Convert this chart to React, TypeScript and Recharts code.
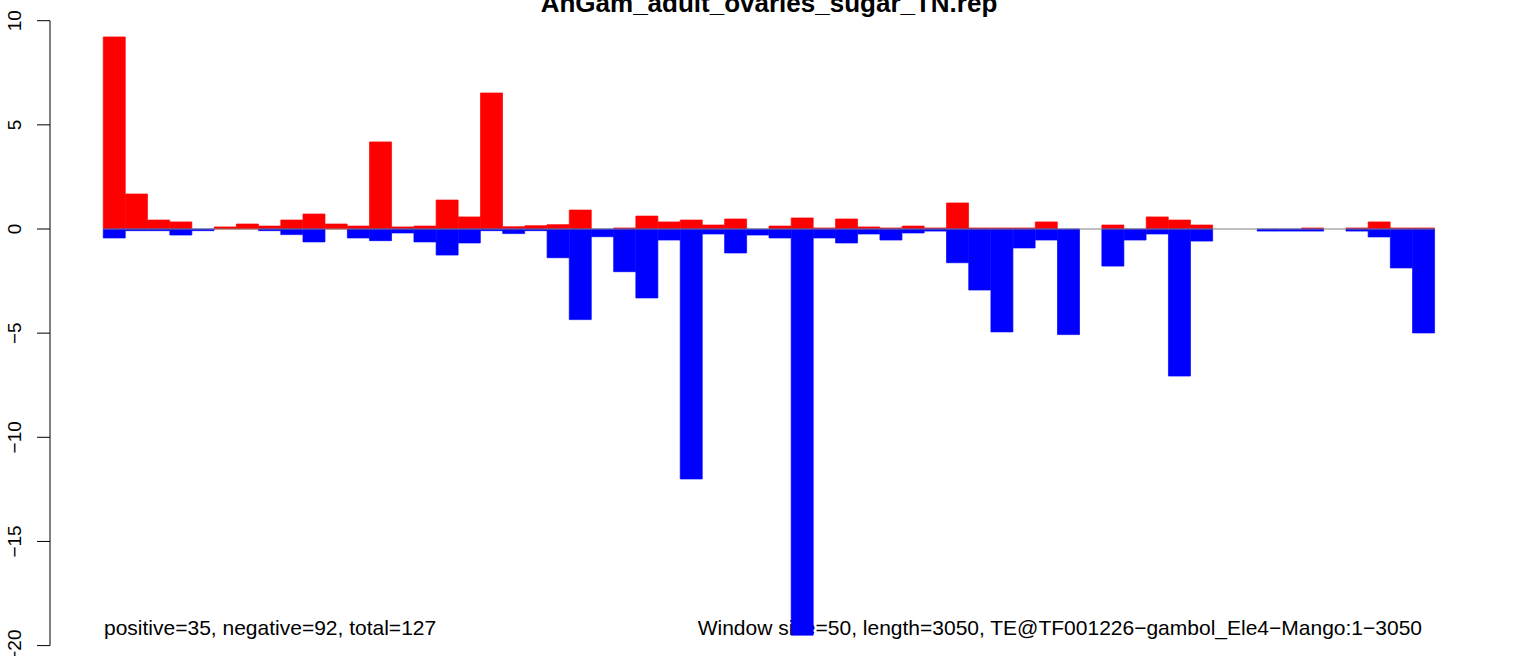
import React from 'react';
import { ComposedChart, Bar, XAxis, YAxis, ReferenceLine } from 'recharts';

const FONT = '"Liberation Sans", Arial, Helvetica, sans-serif';

const title = 'AnGam_adult_ovaries_sugar_TN.rep';
const leftNote = 'positive=35, negative=92, total=127';
const rightNote = 'Window size=50, length=3050, TE@TF001226\u2212gambol_Ele4\u2212Mango:1\u22123050';

// one value per 50bp window (60 windows)
const positive = [
  9.22, 1.68, 0.43, 0.34, 0, 0.1, 0.24, 0.14, 0.43, 0.72,
  0.24, 0.14, 4.18, 0.1, 0.14, 1.39, 0.58, 6.53, 0.11, 0.16,
  0.21, 0.91, 0, 0.05, 0.62, 0.34, 0.43, 0.19, 0.48, 0,
  0.14, 0.53, 0.05, 0.48, 0.1, 0.05, 0.14, 0.05, 1.25, 0.05,
  0.05, 0.05, 0.34, 0, 0, 0.19, 0, 0.58, 0.43, 0.19,
  0, 0, 0, 0, 0.05, 0, 0.05, 0.34, 0.05, 0.05,
];

const negative = [
  -0.43, -0.08, -0.08, -0.29, -0.08, 0, 0, -0.08, -0.27, -0.62,
  0, -0.43, -0.56, -0.19, -0.62, -1.25, -0.67, -0.08, -0.22, -0.08,
  -1.38, -4.35, -0.37, -2.05, -3.31, -0.53, -12.0, -0.24, -1.15, -0.29,
  -0.43, -19.5, -0.43, -0.67, -0.24, -0.53, -0.19, -0.1, -1.62, -2.93,
  -4.94, -0.91, -0.53, -5.07, 0, -1.78, -0.53, -0.24, -7.06, -0.58,
  0, 0, -0.1, -0.1, -0.1, 0, -0.1, -0.38, -1.87, -4.99,
];

const yTicks = [-20, -15, -10, -5, 0, 5, 10];

const data = positive.map((p, i) => ({ win: i + 0.5, up: p, down: negative[i] }));

const YTick = (props: any) => {
  const { y, payload } = props;
  const v = payload.value;
  const label = v < 0 ? '\u2212' + Math.abs(v) : String(v);
  return (
    <text
      x={20.7}
      y={y}
      transform={`rotate(-90, 20.7, ${y})`}
      textAnchor="middle"
      fontSize={19}
      fill="#000"
      fontFamily={FONT}
    >
      {label}
    </text>
  );
};

export default function App() {
  return (
    <div style={{ position: 'absolute', left: 0, top: 0, width: 1536, height: 656, background: '#fff' }}>
      <ComposedChart
        width={1536}
        height={656}
        data={data}
        margin={{ top: 20.7, right: 48, bottom: 10.4, left: 0 }}
        stackOffset="sign"
        barCategoryGap={0}
        barGap={0}
      >
        <XAxis dataKey="win" type="number" domain={[-2.4, 62.4]} allowDataOverflow hide />
        <YAxis
          type="number"
          domain={[-20, 10]}
          ticks={yTicks}
          interval={0}
          allowDataOverflow
          width={50}
          tickSize={13}
          axisLine={{ stroke: '#000', strokeWidth: 1 }}
          tickLine={{ stroke: '#000', strokeWidth: 1 }}
          tick={<YTick />}
        />
        <ReferenceLine
          segment={[{ x: 0, y: 0 }, { x: 60, y: 0 }]}
          stroke="#808080"
          strokeWidth={1.2}
        />
        <Bar dataKey="up" stackId="s" fill="#ff0000" stroke="#ff0000" strokeWidth={0.7} isAnimationActive={false} />
        <Bar dataKey="down" stackId="s" fill="#0000ff" stroke="#0000ff" strokeWidth={0.7} isAnimationActive={false} />
        <text x={769} y={12} textAnchor="middle" fontSize={26} fontWeight="bold" fill="#000" fontFamily={FONT}>
          {title}
        </text>
        <text x={104} y={635} fontSize={21} fill="#000" fontFamily={FONT}>
          {leftNote}
        </text>
        <text x={1422} y={635} textAnchor="end" fontSize={21} fill="#000" fontFamily={FONT}>
          {rightNote}
        </text>
      </ComposedChart>
    </div>
  );
}
